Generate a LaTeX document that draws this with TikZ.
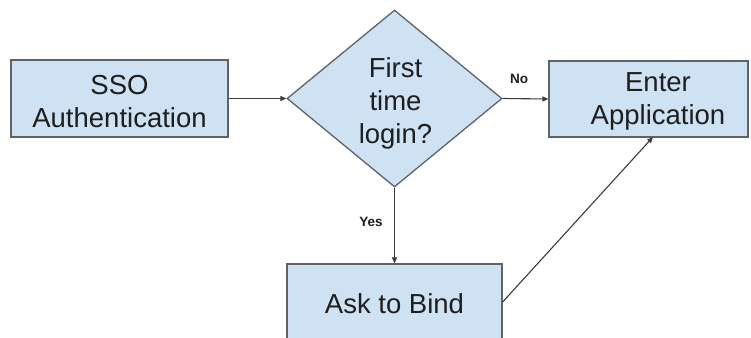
\documentclass[tikz,border=0pt]{standalone}
\usepackage{fontspec}
\setmainfont{Liberation Sans}
\usetikzlibrary{shapes.geometric,arrows.meta}
\definecolor{boxfill}{HTML}{CFE2F3}
\definecolor{boxline}{HTML}{5F6368}
\definecolor{txt}{HTML}{1E1E1E}
\definecolor{arr}{HTML}{3C3C3C}
\begin{document}
\begin{tikzpicture}[x=1pt,y=-1pt,
  boxstyle/.style={draw=boxline, fill=boxfill, line width=1.3pt, inner sep=0pt, rectangle},
  bigtext/.style={font=\fontsize{27.5}{33}\selectfont, align=center, text=txt, inner sep=0pt},
  lbl/.style={font=\fontsize{13.5}{15}\selectfont\bfseries, text=txt, inner sep=0pt},
  conn/.style={draw=arr, line width=1.1pt, -{Triangle[length=6pt,width=5pt]}}]
\useasboundingbox (0,0) rectangle (751,337);
\clip (0,0) rectangle (751,337);
\fill[white] (0,0) rectangle (751,337);
% boxes
\node[boxstyle, minimum width=217pt, minimum height=77pt] (sso) at (119.5,98.5) {};
\node[bigtext] (ssot) at (119.5,101.5) {SSO\\Authentication};
\node[draw=boxline, fill=boxfill, line width=1.3pt, diamond, inner sep=0pt,
      minimum width=215pt, minimum height=177pt, aspect=1.215] (dec) at (394.5,98.5) {};
\node[bigtext] (dect) at (395.5,103) {First\\time\\login?};
\node[boxstyle, minimum width=199pt, minimum height=76pt] (enter) at (648.5,99) {};
\node[bigtext] (entert) at (658,101.5) {Enter\\Application};
\node[boxstyle, minimum width=215pt, minimum height=78pt] (ask) at (394.5,303) {};
\node[bigtext] (askt) at (394.5,304) {Ask to Bind};
% connectors
\draw[conn] (sso.east) -- (dec.west);
\draw[conn] (dec.east) -- (enter.west);
\draw[conn] (dec.south) -- (dec.south |- ask.north);
\coordinate (askr) at (ask.east |- 0,302);
\coordinate (enterb) at (653,137);
\draw[conn] (askr) -- (enterb);
% labels
\node[lbl] (no) at (519,79) {No};
\node[lbl] (yes) at (371,222) {Yes};
\end{tikzpicture}
\end{document}
